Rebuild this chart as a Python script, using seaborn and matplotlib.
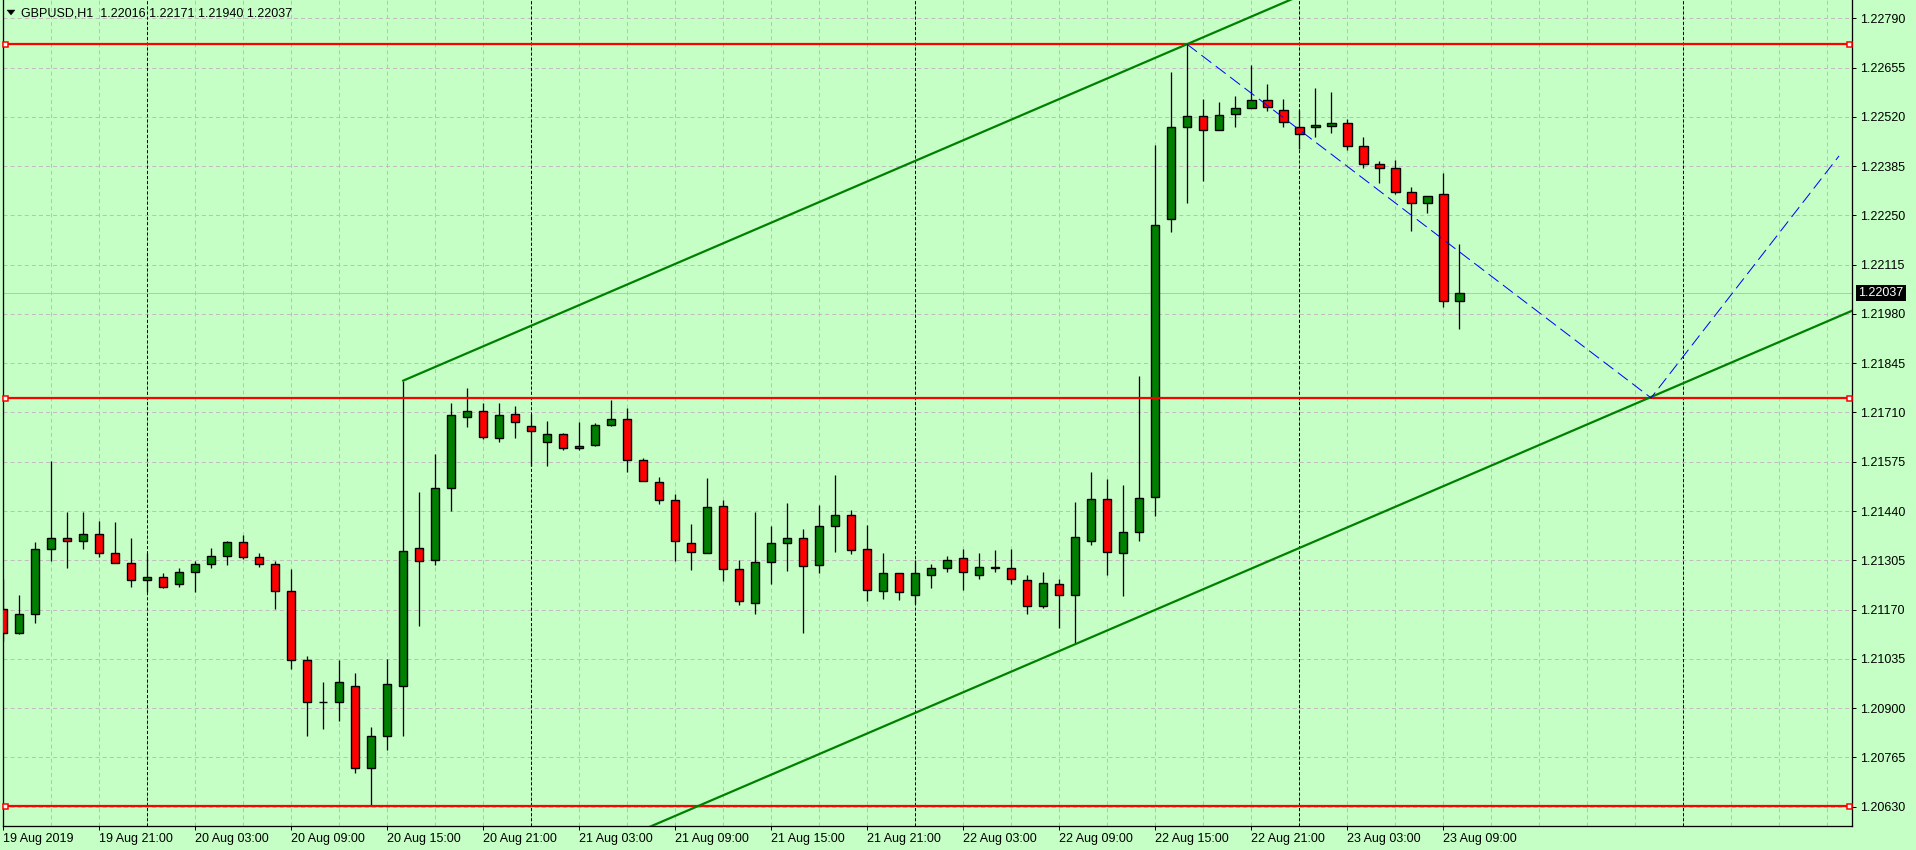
import matplotlib
matplotlib.use("Agg")
import matplotlib.pyplot as plt
import matplotlib.transforms as mtransforms
from matplotlib.patches import Polygon
import numpy as np
import pandas as pd
import seaborn as sns

# ---------------- data ----------------
symbol_title = "GBPUSD,H1"
# bar time = hours since 19 Aug 2019 00:00 (H1 bars)
bar_hours = list(range(15, 107))
opens = [1.21171, 1.21107, 1.21159, 1.21335, 1.21365, 1.21359, 1.21376, 1.21325, 1.21299, 1.21250,
         1.21258, 1.21239, 1.21272, 1.21294, 1.21316, 1.21354, 1.21313, 1.21294, 1.21220, 1.21033,
         1.20916, 1.20916, 1.20962, 1.20735, 1.20823, 1.20961, 1.21339, 1.21306, 1.21504, 1.21699,
         1.21713, 1.21641, 1.21705, 1.21672, 1.21628, 1.21650, 1.21614, 1.21622, 1.21677, 1.21691,
         1.21581, 1.21520, 1.21471, 1.21353, 1.21325, 1.21454, 1.21281, 1.21188, 1.21301, 1.21353,
         1.21367, 1.21292, 1.21399, 1.21430, 1.21337, 1.21222, 1.21269, 1.21211, 1.21264, 1.21285,
         1.21310, 1.21264, 1.21288, 1.21283, 1.21250, 1.21181, 1.21239, 1.21209, 1.21357, 1.21472,
         1.21324, 1.21383, 1.21478, 1.22239, 1.22491, 1.22521, 1.22483, 1.22529, 1.22543, 1.22565,
         1.22540, 1.22491, 1.22491, 1.22494, 1.22502, 1.22439, 1.22390, 1.22379, 1.22313, 1.22283,
         1.22308, 1.22016]
highs = [1.21254, 1.21210, 1.21355, 1.21577, 1.21437, 1.21437, 1.21412, 1.21410, 1.21366, 1.21325,
         1.21269, 1.21285, 1.21302, 1.21340, 1.21359, 1.21373, 1.21325, 1.21302, 1.21280, 1.21042,
         1.20971, 1.21031, 1.20995, 1.20848, 1.21036, 1.21797, 1.21493, 1.21596, 1.21735, 1.21776,
         1.21735, 1.21737, 1.21729, 1.21705, 1.21688, 1.21655, 1.21683, 1.21680, 1.21743, 1.21721,
         1.21586, 1.21534, 1.21487, 1.21405, 1.21531, 1.21471, 1.21306, 1.21438, 1.21399, 1.21463,
         1.21391, 1.21457, 1.21540, 1.21443, 1.21401, 1.21325, 1.21269, 1.21307, 1.21294, 1.21316,
         1.21335, 1.21324, 1.21332, 1.21337, 1.21264, 1.21272, 1.21253, 1.21466, 1.21546, 1.21529,
         1.21510, 1.21810, 1.22442, 1.22644, 1.22719, 1.22568, 1.22562, 1.22578, 1.22661, 1.22611,
         1.22570, 1.22540, 1.22600, 1.22589, 1.22513, 1.22466, 1.22398, 1.22401, 1.22329, 1.22302,
         1.22365, 1.22171]
lows = [1.21085, 1.21103, 1.21134, 1.21304, 1.21285, 1.21337, 1.21315, 1.21299, 1.21233, 1.21219,
        1.21230, 1.21233, 1.21219, 1.21285, 1.21293, 1.21308, 1.21288, 1.21171, 1.21008, 1.20824,
        1.20844, 1.20865, 1.20723, 1.20632, 1.20786, 1.20825, 1.21124, 1.21291, 1.21440, 1.21671,
        1.21636, 1.21628, 1.21641, 1.21563, 1.21563, 1.21606, 1.21608, 1.21619, 1.21672, 1.21548,
        1.21523, 1.21460, 1.21303, 1.21279, 1.21325, 1.21248, 1.21182, 1.21158, 1.21240, 1.21276,
        1.21105, 1.21270, 1.21328, 1.21323, 1.21194, 1.21200, 1.21197, 1.21186, 1.21228, 1.21272,
        1.21224, 1.21253, 1.21274, 1.21241, 1.21159, 1.21175, 1.21120, 1.21075, 1.21348, 1.21265,
        1.21207, 1.21357, 1.21426, 1.22205, 1.22285, 1.22345, 1.22483, 1.22493, 1.22543, 1.22535,
        1.22491, 1.22433, 1.22465, 1.22477, 1.22428, 1.22381, 1.22339, 1.22308, 1.22208, 1.22256,
        1.21998, 1.21940]
closes = [1.21107, 1.21157, 1.21335, 1.21365, 1.21359, 1.21376, 1.21325, 1.21299, 1.21250, 1.21258,
          1.21233, 1.21272, 1.21294, 1.21316, 1.21354, 1.21313, 1.21294, 1.21220, 1.21033, 1.20916,
          1.20916, 1.20971, 1.20735, 1.20824, 1.20967, 1.21330, 1.21303, 1.21504, 1.21702, 1.21713,
          1.21644, 1.21702, 1.21683, 1.21658, 1.21650, 1.21614, 1.21619, 1.21677, 1.21691, 1.21581,
          1.21523, 1.21471, 1.21358, 1.21328, 1.21452, 1.21281, 1.21193, 1.21301, 1.21353, 1.21367,
          1.21290, 1.21399, 1.21430, 1.21334, 1.21225, 1.21269, 1.21217, 1.21269, 1.21285, 1.21307,
          1.21272, 1.21288, 1.21283, 1.21253, 1.21181, 1.21242, 1.21211, 1.21368, 1.21472, 1.21327,
          1.21383, 1.21476, 1.22225, 1.22491, 1.22521, 1.22483, 1.22526, 1.22543, 1.22567, 1.22546,
          1.22507, 1.22474, 1.22499, 1.22502, 1.22439, 1.22390, 1.22381, 1.22313, 1.22283, 1.22302,
          1.22015, 1.22037]

xtick_hours = [15, 21, 27, 33, 39, 45, 51, 57, 63, 69, 75, 81, 87, 93, 99, 105]
xtick_labels = ["19 Aug 2019", "19 Aug 21:00", "20 Aug 03:00", "20 Aug 09:00", "20 Aug 15:00",
                "20 Aug 21:00", "21 Aug 03:00", "21 Aug 09:00", "21 Aug 15:00", "21 Aug 21:00",
                "22 Aug 03:00", "22 Aug 09:00", "22 Aug 15:00", "22 Aug 21:00", "23 Aug 03:00",
                "23 Aug 09:00"]
ytick_values = [1.20630, 1.20765, 1.20900, 1.21035, 1.21170, 1.21305, 1.21440, 1.21575, 1.21710,
                1.21845, 1.21980, 1.22115, 1.22250, 1.22385, 1.22520, 1.22655, 1.22790]
separator_hours = [24, 48, 72, 96, 120]
grid_hours = list(range(15, 130, 3))

level_lines = [1.22719, 1.21749, 1.20632]
channel_hours = [40, 89]
channel_prices = [1.21797, 1.22719]
channel_low_anchor = (82, 1.21075)
projection_hours = [89, 118, 129.75]
projection_prices = [1.22719, 1.21750, 1.22413]
current_price = 1.22037

# ---------------- style ----------------
BG = "#C6FFC6"
UP = "#008000"
DOWN = "#FF0000"
sns.set_theme(style="white")
plt.rcParams["font.family"] = ["Liberation Sans", "DejaVu Sans"]
plt.rcParams["lines.scale_dashes"] = False
plt.rcParams["axes.unicode_minus"] = False

W, H = 1916, 850
fig = plt.figure(figsize=(W / 100, H / 100), dpi=100)
fig.patch.set_facecolor(BG)
ax_left, ax_right, ax_top, ax_bottom = 2.5, 1852, 0, 826
ax = fig.add_axes([ax_left / W, (H - ax_bottom) / H, (ax_right - ax_left) / W, (ax_bottom - ax_top) / H])
ax.set_facecolor(BG)

XMIN, XMAX = 14.97, 130.56
YMIN, YMAX = 1.205771, 1.228401
ax.set_xlim(XMIN, XMAX)
ax.set_ylim(YMIN, YMAX)

px = 0.72  # one pixel in points at dpi 100

# grid
for yv in ytick_values:
    ax.axhline(yv, color="#C0BCC0", lw=px, dashes=(2.9, 2.2), zorder=0.5)
for hv in grid_hours:
    ax.axvline(hv, color="#C0BCC0", lw=px, dashes=(2.9, 2.2), zorder=0.5)
for hv in separator_hours:
    ax.axvline(hv, color="black", lw=px, dashes=(2.2, 1.5), zorder=0.6)

# current price (bid) line
ax.axhline(current_price, color="#C0C0C0", lw=px, zorder=0.7)

# candles
df = pd.DataFrame({"h": bar_hours, "o": opens, "hi": highs, "lo": lows, "c": closes})
df["bottom"] = df[["o", "c"]].min(axis=1)
df["height"] = (df["c"] - df["o"]).abs()
df["color"] = np.where(df["c"] >= df["o"], UP, DOWN)
ax.vlines(df["h"], df["lo"], df["hi"], color="black", lw=px * 1.3, zorder=2)
ax.bar(df["h"], df["height"], bottom=df["bottom"], width=0.56, color=df["color"],
       edgecolor="black", linewidth=px * 1.4, zorder=3)

# horizontal level lines with end markers
blend = mtransforms.blended_transform_factory(ax.transAxes, ax.transData)
for lvl in level_lines:
    ax.axhline(lvl, color="#FF0000", lw=1.6, zorder=4)
    ax.plot([0.0012, 0.9985], [lvl, lvl], ls="none", marker="s", ms=3.6, mfc="white",
            mec="#FF0000", mew=1.1, transform=blend, zorder=5, clip_on=False)

# channel lines
slope = (channel_prices[1] - channel_prices[0]) / (channel_hours[1] - channel_hours[0])
up_h = [channel_hours[0], XMAX + 5]
up_p = [channel_prices[0] + slope * (hh - channel_hours[0]) for hh in up_h]
lo_h = [XMIN - 5, XMAX + 5]
lo_p = [channel_low_anchor[1] + slope * (hh - channel_low_anchor[0]) for hh in lo_h]
sns.lineplot(x=up_h, y=up_p, ax=ax, color=UP, linewidth=1.6, sort=False, estimator=None, zorder=4)
sns.lineplot(x=lo_h, y=lo_p, ax=ax, color=UP, linewidth=1.6, sort=False, estimator=None, zorder=4)

# projection (dashed blue)
sns.lineplot(x=projection_hours, y=projection_prices, ax=ax, color="#0000FF", linewidth=px,
             sort=False, estimator=None, zorder=4)
ax.lines[-1].set_dashes((9.0, 4.0))

ax.set_xlim(XMIN, XMAX)
ax.set_ylim(YMIN, YMAX)

# axes / ticks
for side in ["left", "bottom", "right"]:
    ax.spines[side].set_visible(True)
    ax.spines[side].set_color("black")
    ax.spines[side].set_linewidth(px * 1.3)
ax.spines["top"].set_visible(False)
ax.yaxis.tick_right()
ax.set_yticks(ytick_values)
ax.set_yticklabels([f"{v:.5f}" for v in ytick_values])
ax.tick_params(axis="y", which="major", direction="out", length=3, width=px, pad=3,
               labelsize=9, colors="black", right=True, left=False)
ax.set_xticks(xtick_hours)
ax.set_xticklabels(xtick_labels)
ax.tick_params(axis="x", which="major", direction="out", length=3, width=px, pad=2,
               labelsize=9, colors="black", bottom=True)
for lab in ax.get_xticklabels():
    lab.set_horizontalalignment("left")
ax.set_xlabel("")
ax.set_ylabel("")
ax.grid(False)

# current price label on the axis
ax.text(1.0 + 6.5 / (ax_right - ax_left), current_price, f"{current_price:.5f}", transform=blend,
        ha="left", va="center", fontsize=9, color="white", zorder=10, clip_on=False,
        bbox=dict(facecolor="black", edgecolor="none", boxstyle="square,pad=0.18"))

# header
fig.text(21 / W, 1 - 13.5 / H,
         f"{symbol_title}  {opens[-1]:.5f} {highs[-1]:.5f} {lows[-1]:.5f} {closes[-1]:.5f}",
         ha="left", va="center", fontsize=9, color="black")
tri = Polygon([[7 / W, 1 - 10 / H], [15 / W, 1 - 10 / H], [11 / W, 1 - 15 / H]], closed=True,
              transform=fig.transFigure, facecolor="black", edgecolor="black", lw=0.3)
fig.patches.append(tri)

fig.savefig("out.png", dpi=100, facecolor=BG)
